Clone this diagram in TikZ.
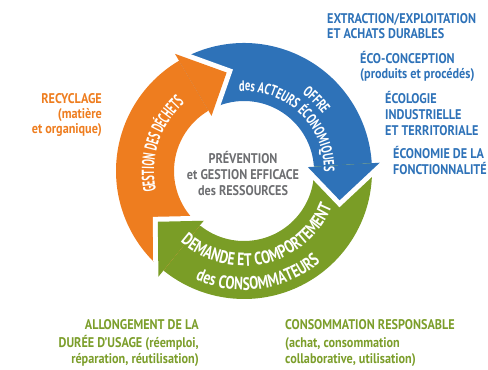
\documentclass[tikz,border=0pt]{standalone}
\usepackage{fontspec}
\setmainfont{PT Sans}[FakeStretch=0.87, BoldFont={PT Sans Bold}, BoldFeatures={FakeStretch=0.87}]
\newfontfamily\ringfont{PT Sans Bold}[FakeStretch=0.70]
\newfontfamily\ringfontwide{PT Sans Bold}[FakeStretch=0.75]
\newfontfamily\ringfontnarrow{PT Sans Bold}[FakeStretch=0.55]
\usetikzlibrary{calc,decorations.text}
\definecolor{cOrange}{HTML}{EE7D1F}
\definecolor{cBlue}{HTML}{2E72B8}
\definecolor{cGreen}{HTML}{7A9D26}
\definecolor{cGray}{HTML}{6D6E71}
\definecolor{tBlue}{HTML}{2E72B8}
\definecolor{tGreen}{HTML}{7C9E2B}
\definecolor{tOrange}{HTML}{EE7D1F}
\def\ri{70}\def\ro{128}\def\wi{64}\def\wo{136}\def\rt{100}
\newcommand\ringband[3]{%
  \fill[#1] ($(C)+(#2:\ro)$) arc[start angle=#2, end angle=#3, radius=\ro]
    -- ($(C)+(#3:\ri)$) arc[start angle=#3, end angle=#2, radius=\ri] -- cycle;}
\newcommand\ringhead[3]{%
  \draw[gapline] ($(C)+(#2:\wo)$) -- ($(C)+(#3:\rt)$) -- ($(C)+(#2:\wi)$);
  \fill[#1] ($(C)+(#2:\wo)$) -- ($(C)+(#3:\rt)$) -- ($(C)+(#2:\wi)$) -- cycle;}
\newcommand\ringtext[6]{% fontcmd, size, radius, start, end, text
  \path[decorate, decoration={text along path, text align=center, text color=white,
    text={|#1\fontsize{#2}{#2}\selectfont|#6}}]
    ($(C)+(#4:#3)$) arc[start angle=#4, end angle=#5, radius=#3];}
\begin{document}
\begin{tikzpicture}[x=1pt,y=1pt,
  side/.style={inner sep=0pt, font=\bfseries\fontsize{14}{16}\selectfont},
  lbl/.style={side, anchor=base west},
  lblr/.style={side, anchor=base east},
  lblc/.style={side, anchor=base, text=cGray},
  gapline/.style={draw=white, line width=10pt, line join=miter},
]
\useasboundingbox (0,0) rectangle (488,-370);
\coordinate (C) at (244,-171);
% bands
\ringband{cBlue}{120.5}{3.5}
\ringband{cGreen}{3.5}{-129}
\ringband{cOrange}{231}{120.5}
% heads
\ringhead{cOrange}{120.5}{100}
\ringhead{cBlue}{3.5}{-17}
\ringhead{cGreen}{231}{210.5}
% ring texts
\ringtext{\ringfontnarrow}{17.5}{90}{223}{101}{GESTION DES DÉCHETS}
\ringtext{\ringfont}{15}{80}{110}{-17}{des ACTEURS ÉCONOMIQUES}
\ringtext{\ringfont}{15}{97}{75}{14}{OFFRE}
\ringtext{\ringfontwide}{18}{95}{212}{354}{DEMANDE ET COMPORTEMENT}
\ringtext{\ringfontwide}{18}{119}{216}{340}{des CONSOMMATEURS}
% centre
\node[lblc] (c1) at (243,-163) {PRÉVENTION};
\node[lblc] (c2) at (243,-179) {et GESTION EFFICACE};
\node[lblc] (c3) at (243,-195) {des RESSOURCES};
% right blue
\node[lbl,text=tBlue] (b1) at (327,-23) {EXTRACTION/EXPLOITATION};
\node[lbl,text=tBlue] (b2) at (327,-38) {ET ACHATS DURABLES};
\node[lbl,text=tBlue] (b3) at (360,-63) {ÉCO-CONCEPTION};
\node[lbl,text=tBlue] (b4) at (360,-78) {(produits et procédés)};
\node[lbl,text=tBlue] (b5) at (385,-103) {ÉCOLOGIE};
\node[lbl,text=tBlue] (b6) at (385,-119) {INDUSTRIELLE};
\node[lbl,text=tBlue] (b7) at (385,-135) {ET TERRITORIALE};
\node[lbl,text=tBlue] (b8) at (393,-158) {ÉCONOMIE DE LA};
\node[lbl,text=tBlue] (b9) at (393,-174) {FONCTIONNALITÉ};
% left orange
\node[lblr,text=tOrange] (o1) at (102,-103) {RECYCLAGE};
\node[lblr,text=tOrange] (o2) at (102,-118) {(matière};
\node[lblr,text=tOrange] (o3) at (102,-133) {et organique)};
% bottom green
\node[lblr,text=tGreen] (g1) at (199,-329) {ALLONGEMENT DE LA};
\node[lblr,text=tGreen] (g2) at (199,-347) {DURÉE D’USAGE (réemploi,};
\node[lblr,text=tGreen] (g3) at (199,-363) {réparation, réutilisation)};
\node[lbl,text=tGreen] (g4) at (285,-329) {CONSOMMATION RESPONSABLE};
\node[lbl,text=tGreen] (g5) at (285,-347) {(achat, consommation};
\node[lbl,text=tGreen] (g6) at (285,-363) {collaborative, utilisation)};
\end{tikzpicture}
\end{document}
